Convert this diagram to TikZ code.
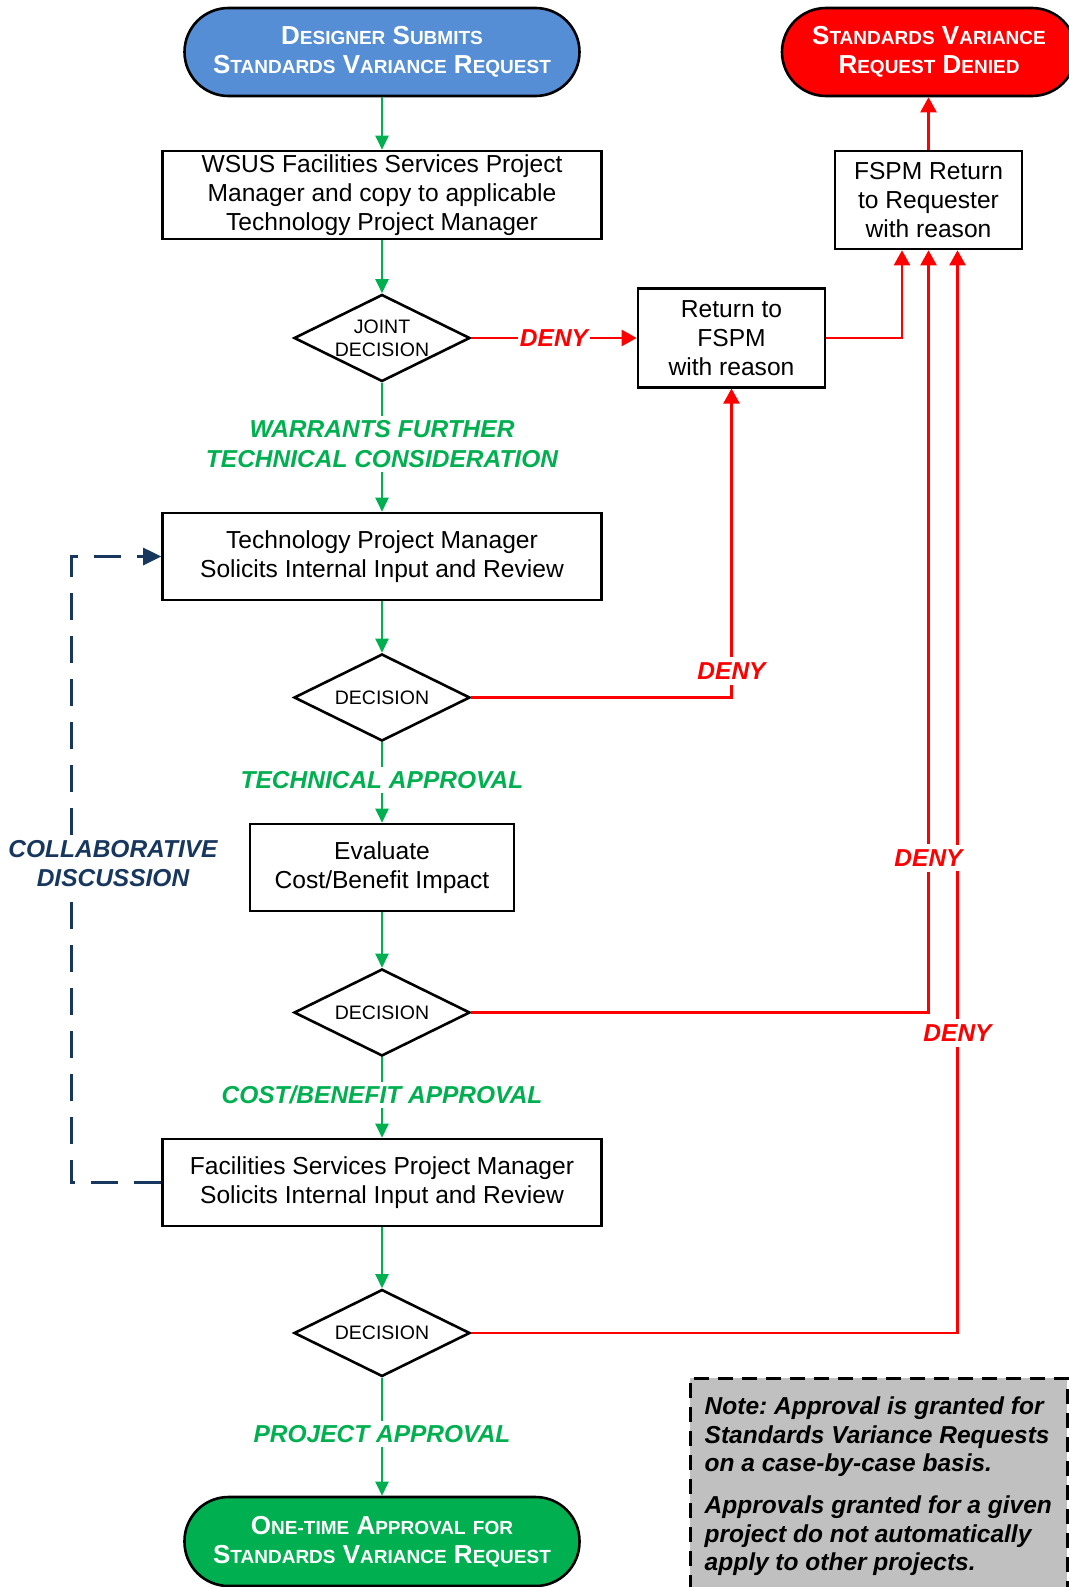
\documentclass[tikz,border=0pt]{standalone}
\usepackage{fontspec}
\setmainfont{Liberation Sans}
\usetikzlibrary{shapes.geometric,arrows.meta,calc}

\definecolor{fgreen}{HTML}{00B050}
\definecolor{fblue}{HTML}{558ED5}
\definecolor{fred}{HTML}{FF0000}
\definecolor{fnavy}{HTML}{17375E}
\definecolor{fgray}{HTML}{C0C0C0}

\newcommand\SCx[2]{#1{\fontsize{19}{19}\selectfont #2}}
\frenchspacing

\begin{document}
\begin{tikzpicture}[x=1pt,y=-1pt,
 box/.style={draw=black, line width=2.6pt, fill=white, inner sep=0pt, align=center, font=\fontsize{24.6}{29.3}\selectfont},
 pill/.style={draw=black, line width=2.6pt, rounded corners=44pt, minimum width=395pt, minimum height=88pt, inner sep=0pt, align=center, text=white, font=\bfseries\fontsize{26}{29.4}\selectfont},
 dia/.style={draw=black, line width=2.6pt, diamond, fill=white, minimum width=176pt, minimum height=87pt, inner sep=0pt},
 dtext/.style={align=center, font=\fontsize{19.5}{23.3}\selectfont, inner sep=0pt},
 gline/.style={draw=fgreen, line width=2.2pt},
 garrow/.style={gline, -{Triangle[length=14pt,width=13pt]}},
 rline/.style={draw=fred, line width=2.2pt},
 rarrow/.style={rline, -{Triangle[length=15pt,width=16pt]}},
 nline/.style={draw=fnavy, line width=2.8pt, dash pattern=on 27pt off 16pt},
 narrow/.style={nline, -{Triangle[length=18pt,width=17pt]}},
 glabel/.style={text=fgreen, font=\bfseries\itshape\fontsize{24.5}{29.5}\selectfont, align=center, inner sep=4pt},
 rlabel/.style={text=fred, fill=white, font=\bfseries\itshape\fontsize{24.5}{29}\selectfont, inner xsep=2pt, inner ysep=5pt},
 clabel/.style={text=fnavy, font=\bfseries\itshape\fontsize{24.5}{29}\selectfont, align=center, inner sep=5pt},
 notebox/.style={draw=black, line width=2.6pt, dash pattern=on 15pt off 9pt, fill=fgray, inner sep=0pt},
 notetext/.style={align=left, inner sep=0pt, font=\bfseries\itshape\fontsize{24.5}{28.3}\selectfont},
]
\useasboundingbox (0,0) rectangle (1068,1587);

% terminals
\node[pill, fill=fblue] (start) at (382,52) {\SCx{D}{ESIGNER} \SCx{S}{UBMITS}\\\SCx{S}{TANDARDS} \SCx{V}{ARIANCE} \SCx{R}{EQUEST}};
\node[pill, fill=fred, minimum width=294pt] (denied) at (929,52) {\SCx{S}{TANDARDS} \SCx{V}{ARIANCE}\\\SCx{R}{EQUEST} \SCx{D}{ENIED}};
\node[pill, fill=fgreen, minimum height=89pt] (final) at (382,1541.5) {\SCx{O}{NE-TIME} \SCx{A}{PPROVAL} {\fontsize{19}{19}\selectfont FOR}\\\SCx{S}{TANDARDS} \SCx{V}{ARIANCE} \SCx{R}{EQUEST}};

% boxes
\node[box, minimum width=439pt, minimum height=88pt] (b1) at (382,195) {WSUS Facilities Services Project\\Manager and copy to applicable\\Technology Project Manager};
\node[box, minimum width=439pt, minimum height=87pt] (b2) at (382,556.5) {Technology Project Manager\\Solicits Internal Input and Review};
\node[box, minimum width=264pt, minimum height=87pt] (b3) at (382,867.5) {Evaluate\\Cost/Benefit Impact};
\node[box, minimum width=439pt, minimum height=87pt] (b4) at (382,1182.5) {Facilities Services Project Manager\\Solicits Internal Input and Review};
\node[box, minimum width=187pt, minimum height=98.5pt] (rf) at (731.5,338) {Return to\\FSPM\\with reason};
\node[box, minimum width=187pt, minimum height=98pt] (fr) at (928.5,200) {FSPM Return\\to Requester\\with reason};

% decisions
\node[dia] (d1) at (382,338) {};
\node[dtext] (t1) at (d1) {JOINT\\DECISION};
\node[dia] (d2) at (382,697.5) {};
\node[dtext] (t2) at (d2) {DECISION};
\node[dia] (d3) at (382,1012.5) {};
\node[dtext] (t3) at (d3) {DECISION};
\node[dia] (d4) at (382,1333) {};
\node[dtext] (t4) at (d4) {DECISION};

% green flow labels
\node[glabel] (l1) at (382,444) {WARRANTS FURTHER\\TECHNICAL CONSIDERATION};
\node[glabel] (l2) at (382,780) {TECHNICAL APPROVAL};
\node[glabel] (l3) at (382,1095) {COST/BENEFIT APPROVAL};
\node[glabel] (l4) at (382,1434) {PROJECT APPROVAL};
\node[clabel] (c1) at (113,863.5) {COLLABORATIVE\\DISCUSSION};

% deny label anchors (placed first so lines can end at them)
\path (554,338) node[rlabel] (r1) {DENY};
\path (731.5,671) node[rlabel] (r2) {DENY};
\path (957.5,1033) node[rlabel] (r4) {DENY};

% green flow
\draw[garrow] (start) -- (b1);
\draw[garrow] (b1) -- (d1);
\draw[gline] (d1.south) -- (l1.north);
\draw[garrow] (l1.south) -- (b2.north);
\draw[garrow] (b2) -- (d2);
\draw[gline] (d2.south) -- (l2.north);
\draw[garrow] (l2.south) -- (b3.north);
\draw[garrow] (b3) -- (d3);
\draw[gline] (d3.south) -- (l3.north);
\draw[garrow] (l3.south) -- (b4.north);
\draw[garrow] (b4) -- (d4);
\draw[gline] (d4.south) -- (l4.north);
\draw[garrow] (l4.south) -- (final.north);

% red deny flow
\draw[rline] (d1.east) -- (r1.west);
\draw[rarrow] (r1.east) -- (rf.west);
\draw[rarrow] (rf.east) -| ([xshift=-26.5pt]fr.south);
\draw[rline] (d2.east) -| (r2.south);
\draw[rarrow] (r2.north) -- (rf.south);
\draw[rline] (d4.east) -| (r4.south);
\draw[rarrow] (r4.north) -- ([xshift=29pt]fr.south);
\draw[rarrow] (fr.north) -- (fr.north |- denied.south);

% upper DENY label covers both long lines
\node[rlabel] (r3) at (928.5,858) {DENY};
\draw[rline] (d3.east) -| (r3.south);
\draw[rarrow] (r3.north) -- (fr.south);

% collaborative loop
\coordinate (cl) at ([xshift=-90pt]b4.west);
\draw[nline] (b4.west) -- (cl) -- (cl |- c1.south);
\draw[narrow] (cl |- c1.north) |- (b2.west);

% note
\node[notebox, anchor=north west, minimum width=377pt, minimum height=225pt] (nb) at (689,1377) {};
\node[notetext, anchor=north west] (nt) at (704.5,1397) {Note: Approval is granted for\\Standards Variance Requests\\on a case-by-case basis.\\[14pt]Approvals granted for a given\\project do not automatically\\apply to other projects.};
\end{tikzpicture}
\end{document}
